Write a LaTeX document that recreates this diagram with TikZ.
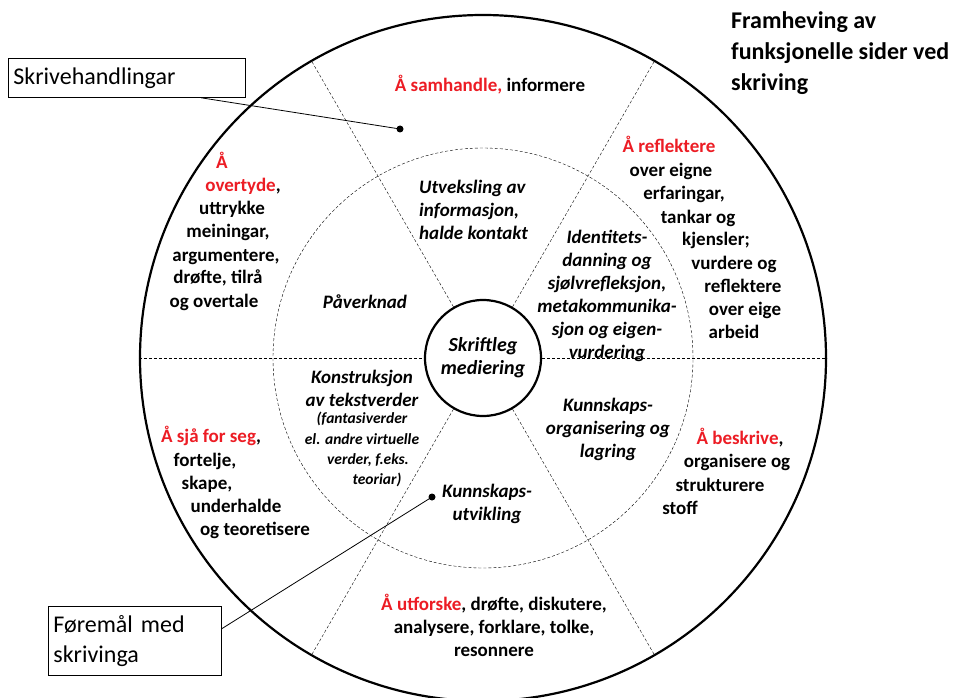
\documentclass[tikz,border=0pt]{standalone}
\usepackage{fontspec}
\setmainfont{Carlito}
\usetikzlibrary{positioning}
\definecolor{actred}{RGB}{236,28,36}
\newcommand{\act}[1]{\textcolor{actred}{#1}}
\tikzset{
    ring/.style = {draw, circle, line width=2.2pt, minimum size=686pt, inner sep=0pt},
    mid-ring/.style = {draw, circle, thin, dash pattern=on 3pt off 2pt, minimum size=420pt, inner sep=0pt},
    core/.style = {draw, circle, line width=2.2pt, fill=white, minimum size=116pt, inner sep=0pt, align=center, font=\fontsize{20}{23}\selectfont\bfseries\itshape},
    spoke/.style = {thin, dash pattern=on 3pt off 2pt},
    act-line/.style = {inner sep=0pt, text height=13.5pt, text depth=4.5pt, font=\fontsize{19}{23}\selectfont\bfseries},
    act-block/.style = {inner sep=0pt, align=center, font=\fontsize{19}{23}\selectfont\bfseries},
    aim-block/.style = {inner sep=0pt, align=center, font=\fontsize{19}{23}\selectfont\bfseries\itshape},
    aim-small/.style = {inner sep=0pt, text height=11pt, text depth=3.5pt, font=\fontsize{15.5}{20}\selectfont\bfseries\itshape},
    callout-box/.style = {draw, thick, fill=white, inner sep=5pt, align=left, font=\fontsize{24}{30}\selectfont},
    callout/.style = {thick},
    dot/.style = {circle, fill, inner sep=0pt, minimum size=7pt},
}
\begin{document}
\begin{tikzpicture}[x=1pt, y=-1pt]
\useasboundingbox (0,0) rectangle (958,698);
% the wheel
\node[ring] (wheel) at (483,358) {};
\node[mid-ring] (mid) at (wheel.center) {};
\node[core] (core) at (wheel.center) {Skriftleg\\mediering};
\foreach \a in {60,120,240,300}
    \draw[spoke] (core.\a) -- (wheel.\a);
\draw[spoke] (wheel.west) -- (core.west);
\draw[spoke] (core.east) -- (wheel.east);

% outer ring: writing acts
\node[act-line] (samhandle) at (490,87) {\act{Å samhandle,} informere};
\foreach \x/\y/\t [count=\i] in {669/148/{\act{Å reflektere}}, 671/172/over eigne, 684/195/{erfaringar,},
    698/219/tankar og, 716/241/kjensler;, 734/265/vurdere og, 743/288/reflektere, 745/311/over eige, 734/334/arbeid}
    \node[act-line] (reflektere-\i) at (\x,\y) {\t};
\foreach \x/\y/\t [count=\i] in {222/164/{\act{Å}}, 243/187/{\act{overtyde},}, 232/210/uttrykke, 228/233/{meiningar,},
    226/257/{argumentere,}, 218/279/{drøfte, tilrå}, 214/303/og overtale}
    \node[act-line] (overtyde-\i) at (\x,\y) {\t};
\foreach \x/\y/\t [count=\i] in {211/438/{\act{Å sjå for seg},}, 205/462/{fortelje,}, 207/485/{skape,},
    236/508/underhalde, 255/531/og teoretisere}
    \node[act-line] (sjaa-\i) at (\x,\y) {\t};
\foreach \x/\y/\t [count=\i] in {740/440/{\act{Å beskrive},}, 737/463/organisere og, 720/487/strukturere, 680/510/stoff}
    \node[act-line] (beskrive-\i) at (\x,\y) {\t};
\node[act-block] (utforske) at (494,625) {\act{Å utforske}, drøfte, diskutere,\\analysere, forklare, tolke,\\resonnere};

% inner ring: purposes
\node[aim-block, align=left, anchor=west] (utveksling) at (419,210) {Utveksling av\\informasjon,\\halde kontakt};
\node[aim-block] (identitet) at (607,296) {Identitets-\\danning og\\sjølvrefleksjon,\\metakommunika-\\sjon og eigen-\\vurdering};
\node[aim-block] (paaverknad) at (365,302) {Påverknad};
\node[aim-block] (konstruksjon) at (362,388) {Konstruksjon\\av tekstverder};
\foreach \x/\y/\t [count=\i] in {362/420/(fantasiverder, 362/441/el. andre virtuelle, 368/461/{verder, f.eks.}, 377/481/teoriar)}
    \node[aim-small] (fantasi-\i) at (\x,\y) {\t};
\node[aim-block] (organisering) at (608,429) {Kunnskaps-\\organisering og\\lagring};
\node[aim-block] (utvikling) at (487,504) {Kunnskaps-\\utvikling};

% title and callouts
\node[anchor=west, align=left, inner sep=0pt, font=\fontsize{24}{31}\selectfont\bfseries] (title) at (731,53)
    {Framheving av\\funksjonelle sider ved\\skriving};
\node[callout-box, anchor=north west, text width=227pt, minimum height=39pt] (handlingar) at (8,58) {Skrivehandlingar};
\node[callout-box, anchor=north west, text width=163pt, minimum height=69pt] (foremaal) at (48,606) {Føremål med\\skrivinga};
\node[dot] (handlingar-dot) at (400,129) {};
\node[dot] (foremaal-dot) at (432,497) {};
\draw[callout] (handlingar.-15) -- (handlingar-dot.center);
\draw[callout] (foremaal.8) -- (foremaal-dot.center);
\end{tikzpicture}
\end{document}
